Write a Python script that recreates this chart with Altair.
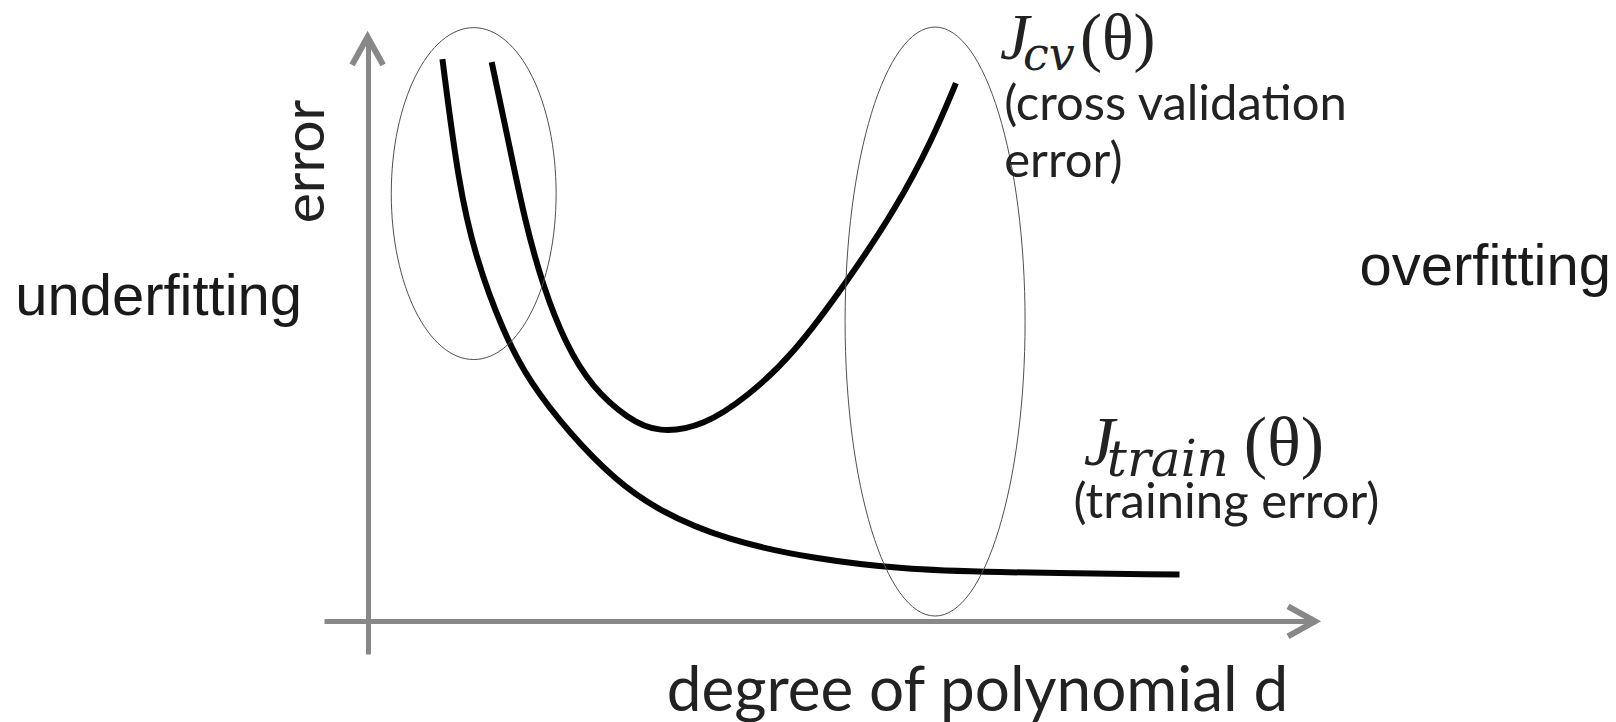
import altair as alt
import pandas as pd

# ---------------------------------------------------------------- data
# Training error against polynomial degree (arbitrary units)
train_degree = [0.79, 0.96, 1.14, 1.43, 1.71, 2.13, 2.61, 3.07, 3.78, 4.73, 5.67, 6.46, 8.57]
train_error = [9.62, 7.48, 6.22, 4.95, 4.09, 3.22, 2.42, 1.89, 1.39, 1.06, 0.89, 0.84, 0.80]

# Cross-validation error against polynomial degree
cv_degree = [1.31, 1.48, 1.66, 1.85, 2.09, 2.37, 2.75, 3.07, 3.55, 4.02, 4.49, 5.06, 5.58, 5.96, 6.21]
cv_error = [9.57, 8.27, 6.85, 5.74, 4.74, 4.00, 3.46, 3.22, 3.34, 3.86, 4.56, 5.81, 7.07, 8.24, 9.21]

axis_titles = ["degree of polynomial d", "error"]
regime_labels = ["underfitting", "overfitting"]
cv_label = ["J", "cv", "(θ)", "(cross validation", "error)"]
train_label = ["J", "train", "(θ)", "(training error)"]

# ---------------------------------------------------------------- layout
W, H = 1616, 722
PAD = {"left": 324, "top": 37, "right": 301, "bottom": 68}
PLOT_W = W - PAD["left"] - PAD["right"]
PLOT_H = H - PAD["top"] - PAD["bottom"]
X_DOMAIN = [-0.46, 10]
Y_DOMAIN = [-0.56, 10]
PX_PER_X = PLOT_W / (X_DOMAIN[1] - X_DOMAIN[0])
PX_PER_Y = PLOT_H / (Y_DOMAIN[1] - Y_DOMAIN[0])

AXIS_GREY = "#888888"
INK = "#050505"
LABEL_INK = "#222222"
SANS = "Lato"
MATH = "Liberation Serif"
MATH_SUB = "DejaVu Serif"

xs = alt.Scale(domain=X_DOMAIN, nice=False, zero=False)
ys = alt.Scale(domain=Y_DOMAIN, nice=False, zero=False)

x_axis = alt.Axis(
    domain=True, domainColor=AXIS_GREY, domainWidth=5, domainCap="butt",
    ticks=False, labels=False, grid=False, offset=-33,
    title=axis_titles[0], titleFont=SANS, titleFontSize=62, titleFontWeight="normal",
    titleColor=LABEL_INK, titleAlign="center", titleBaseline="alphabetic",
    titleX=653, titleY=89,
)
y_axis = alt.Axis(
    domain=True, domainColor=AXIS_GREY, domainWidth=5, domainCap="butt",
    ticks=False, labels=False, grid=False, offset=-44,
    title=axis_titles[1], titleFont=SANS, titleFontSize=57, titleFontWeight="normal",
    titleColor=LABEL_INK, titleAngle=270, titleAlign="center", titleBaseline="alphabetic",
    titleX=-45, titleY=124,
)


def at(x, y):
    """Position encodings on the shared scales (axes come from the curve layer)."""
    return {"x": alt.XDatum(x, scale=xs), "y": alt.YDatum(y, scale=ys)}


# ---------------------------------------------------------------- curves
curves = pd.concat([
    pd.DataFrame({"degree": train_degree, "error": train_error, "series": "train"}),
    pd.DataFrame({"degree": cv_degree, "error": cv_error, "series": "cv"}),
])

lines = alt.Chart(curves).mark_line(
    color=INK, strokeWidth=6, interpolate="basis", strokeCap="butt"
).encode(
    x=alt.X("degree:Q", scale=xs, axis=x_axis),
    y=alt.Y("error:Q", scale=ys, axis=y_axis),
    detail="series:N",
)

# ---------------------------------------------------------------- arrowheads
CHEVRON = "M-1,1.8 L0,0 L1,1.8"
arrow_y = alt.Chart().mark_point(
    shape=CHEVRON, size=961, filled=False, stroke=AXIS_GREY, strokeWidth=6,
    strokeJoin="miter", opacity=1,
).encode(**at(0, 10))
arrow_x = alt.Chart().mark_point(
    shape=CHEVRON, size=900, filled=False, stroke=AXIS_GREY, strokeWidth=6,
    strokeJoin="miter", opacity=1, angle=90,
).encode(**at(10, 0))


# ---------------------------------------------------------------- regime ellipses
def ellipse(cx, cy, rx, ry):
    rx_px, ry_px = rx * PX_PER_X, ry * PX_PER_Y
    r = rx_px / ry_px
    shape = f"M0,-1 A{r:.4f},1 0 1,1 0,1 A{r:.4f},1 0 1,1 0,-1 Z"
    return alt.Chart().mark_point(
        shape=shape, size=(2 * ry_px) ** 2, filled=False,
        stroke="#505050", strokeWidth=1, opacity=1,
    ).encode(**at(cx, cy))


under_ring = ellipse(1.12, 7.32, 0.87, 2.84)
over_ring = ellipse(5.99, 5.13, 0.95, 5.04)


# ---------------------------------------------------------------- text
def text(label, x, y, font, size, color=LABEL_INK, style="normal", dx=0, dy=0):
    return alt.Chart().mark_text(
        text=label, font=font, fontSize=size, fontStyle=style, color=color,
        align="left", baseline="alphabetic", dx=dx, dy=dy,
    ).encode(**at(x, y))


regimes = [
    text(regime_labels[0], -3.72, 5.24, "Liberation Sans", 58, "#1a1a1a"),
    text(regime_labels[1], 10.47, 5.76, "Liberation Sans", 58, "#1a1a1a"),
]

cv_text = [
    text(cv_label[0], 6.675, 9.62, MATH, 66, style="italic"),
    text(cv_label[1], 6.675, 9.62, MATH_SUB, 46, style="italic", dx=23, dy=11),
    text(cv_label[2], 6.675, 9.62, MATH, 66, dx=80),
    text(cv_label[3], 6.72, 8.58, SANS, 49),
    text(cv_label[4], 6.72, 7.60, SANS, 49),
]

train_text = [
    text(train_label[0], 7.56, 2.675, MATH, 70, style="italic"),
    text(train_label[1], 7.56, 2.675, MATH_SUB, 50, style="italic", dx=23, dy=11),
    text(train_label[2], 7.56, 2.675, MATH, 70, dx=160),
    text(train_label[3], 7.45, 1.77, SANS, 49),
]

chart = alt.layer(
    lines, under_ring, over_ring, arrow_x, arrow_y, *regimes, *cv_text, *train_text
).properties(
    width=PLOT_W, height=PLOT_H, padding=PAD,
    autosize=alt.AutoSizeParams(type="none"),
    background="white",
).configure_view(stroke=None)

chart.save("out.html", embed_options={"renderer": "svg", "actions": False})
